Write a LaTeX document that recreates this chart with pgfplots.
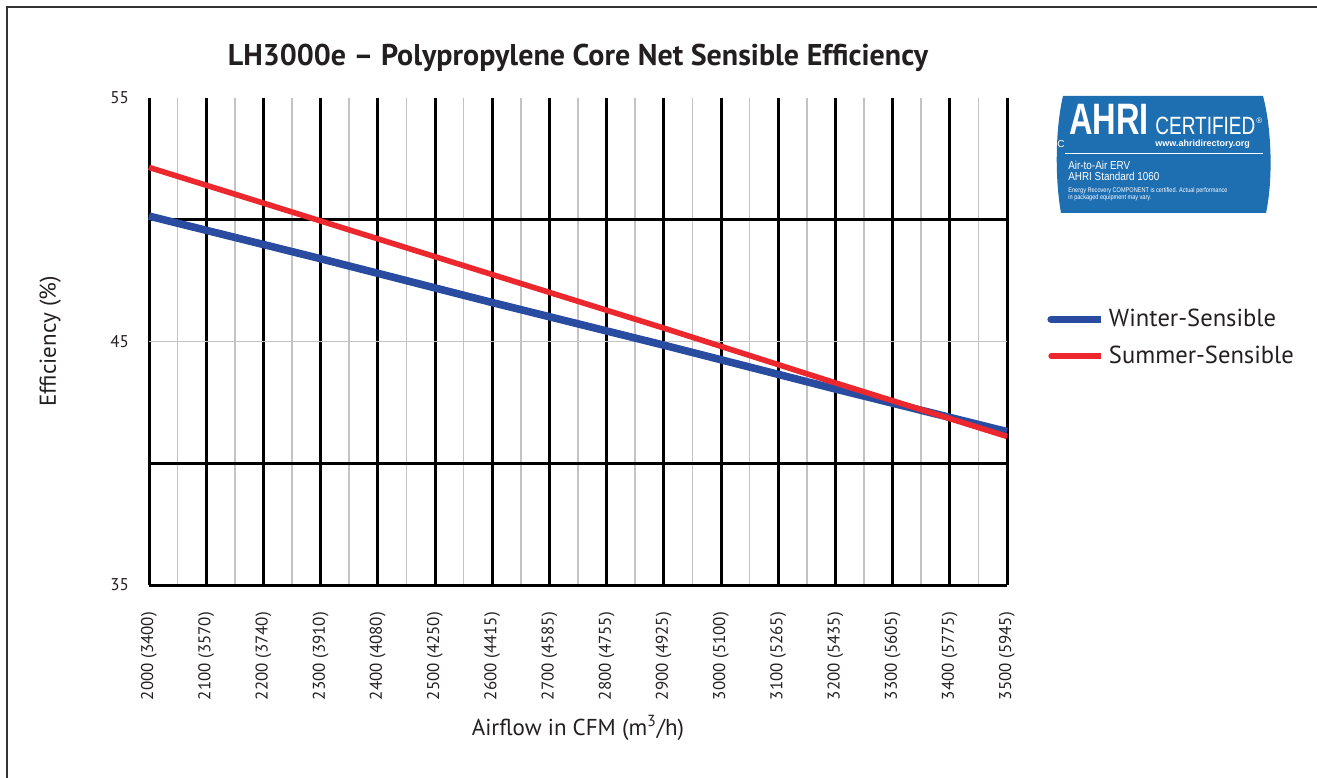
\documentclass[border=0pt]{standalone}
\usepackage{fontspec}
\setmainfont{PT Sans}
\newfontfamily\arial{Liberation Sans}
\usepackage{graphicx}
\usepackage{pgfplots}
\pgfplotsset{compat=1.18}
\definecolor{winter}{RGB}{41,76,160}
\definecolor{summer}{RGB}{236,40,46}
\definecolor{badge}{RGB}{30,110,178}
\definecolor{txt}{RGB}{35,31,32}
\definecolor{lgray}{RGB}{195,195,195}

\pgfplotstableread{
x y
2000 50.15
2300 48.40
2600 46.60
2900 44.85
3200 43.05
3500 41.30
}\winterdata
\pgfplotstableread{
x y
2000 52.15
2300 49.95
2600 47.75
2900 45.55
3200 43.30
3500 41.10
}\summerdata

\begin{document}
\begin{tikzpicture}
\useasboundingbox (0,0) rectangle (658.5pt,388.5pt);
\draw[line width=0.8pt, black!80] (3.5pt,-2pt) -- (3.5pt,385pt) -- (662pt,385pt);
\begin{axis}[
  at={(74.5pt,96pt)}, anchor=south west,
  scale only axis, width=429pt, height=243.5pt,
  xmin=2000, xmax=3500, ymin=35, ymax=55,
  axis line style={draw=none},
  xtick={2000,2100,...,3500},
  xticklabels={2000 (3400),2100 (3570),2200 (3740),2300 (3910),2400 (4080),2500 (4250),2600 (4415),2700 (4585),2800 (4755),2900 (4925),3000 (5100),3100 (5265),3200 (5435),3300 (5605),3400 (5775),3500 (5945)},
  minor x tick num=1,
  xmajorgrids, xminorgrids,
  major x grid style={black, line width=1.5pt},
  minor x grid style={lgray, line width=0.75pt},
  ytick={35,45,55}, yticklabels={35,45,55},
  minor ytick={45}, yminorgrids,
  minor y grid style={lgray, line width=0.75pt},
  extra y ticks={35,40,50}, extra y tick labels={},
  extra y tick style={grid=major, major grid style={black, line width=1.5pt}},
  major tick length=0pt, minor tick length=0pt,
  xticklabel shift=10pt,
  yticklabel shift=6.5pt,
  xticklabel style={rotate=90, anchor=east, font=\fontsize{8.5}{10}\selectfont, text=txt},
  yticklabel style={font=\fontsize{8.5}{10}\selectfont, text=txt},
  title={\bfseries LH3000e – Polypropylene Core Net Sensible Efficiency},
  title style={at={(0.5,1.086)}, anchor=center, yshift=-7pt, font=\fontsize{15}{17}\selectfont, text=txt},
  xlabel={Airflow in CFM (m\textsuperscript{3}/h)},
  xlabel style={at={(0.5,-0.294)}, anchor=center, font=\fontsize{11.5}{13}\selectfont, text=txt},
  ylabel={Efficiency (\%)},
  ylabel style={at={(-0.115,0.5)}, anchor=center, font=\fontsize{11.5}{13}\selectfont, text=txt},
  legend style={at={(1.0466,0.508)}, anchor=west, draw=none, fill=none,
    font=\fontsize{12.3}{14}\selectfont, text=txt, row sep=4pt, inner sep=0pt},
  legend cell align=left,
  legend image code/.code={\draw[#1, line cap=round] (0pt,0pt) -- (23pt,0pt); \path (0pt,0pt) -- (25pt,0pt);},
  clip=false,
]
\addplot[winter, line width=3.8pt] table {\winterdata};
\addlegendentry{Winter-Sensible}
\addplot[summer, line width=2.8pt] table {\summerdata};
\addlegendentry{Summer-Sensible}
\end{axis}

\begin{scope}[x=0.5pt, y=-0.5pt, shift={(0pt,388.5pt)}]
\fill[badge] (1063,96) -- (1263,96) .. controls (1272,130) and (1273,180) .. (1266,213)
  -- (1061,213) .. controls (1055,180) and (1055,130) .. (1063,96) -- cycle;
\node[anchor=base west, inner sep=0pt, text=white, font=\arial\bfseries\fontsize{22}{22}\selectfont] at (1069,135) {\scalebox{0.74}[1]{AHRI}};
\node[anchor=base west, inner sep=0pt, text=white, font=\arial\fontsize{12.5}{12.5}\selectfont] at (1155,135) {\scalebox{0.76}[1]{CERTIFIED}};
\node[anchor=base west, inner sep=0pt, text=white, font=\arial\fontsize{4}{4}\selectfont] at (1256,124) {®};
\node[anchor=base west, inner sep=0pt, text=white, font=\arial\bfseries\fontsize{4.5}{5}\selectfont] at (1155,147) {www.ahridirectory.org};
\draw[white, line width=0.4pt] (1065,153) -- (1263,153);
\node[anchor=base west, inner sep=0pt, text=white, font=\arial\fontsize{5}{5}\selectfont] at (1057,148) {C};
\node[anchor=base west, inner sep=0pt, text=white, font=\arial\fontsize{5.8}{6}\selectfont] at (1068,170) {\scalebox{0.85}[1]{Air-to-Air ERV}};
\node[anchor=base west, inner sep=0pt, text=white, font=\arial\fontsize{5.8}{6}\selectfont] at (1068,181) {\scalebox{0.85}[1]{AHRI Standard 1060}};
\node[anchor=base west, inner sep=0pt, text=white, font=\arial\fontsize{3.4}{4}\selectfont] at (1068,193) {\scalebox{0.82}[1]{Energy Recovery COMPONENT is certified. Actual performance}};
\node[anchor=base west, inner sep=0pt, text=white, font=\arial\fontsize{3.4}{4}\selectfont] at (1068,200) {\scalebox{0.82}[1]{in packaged equipment may vary.}};
\end{scope}
\end{tikzpicture}
\end{document}
